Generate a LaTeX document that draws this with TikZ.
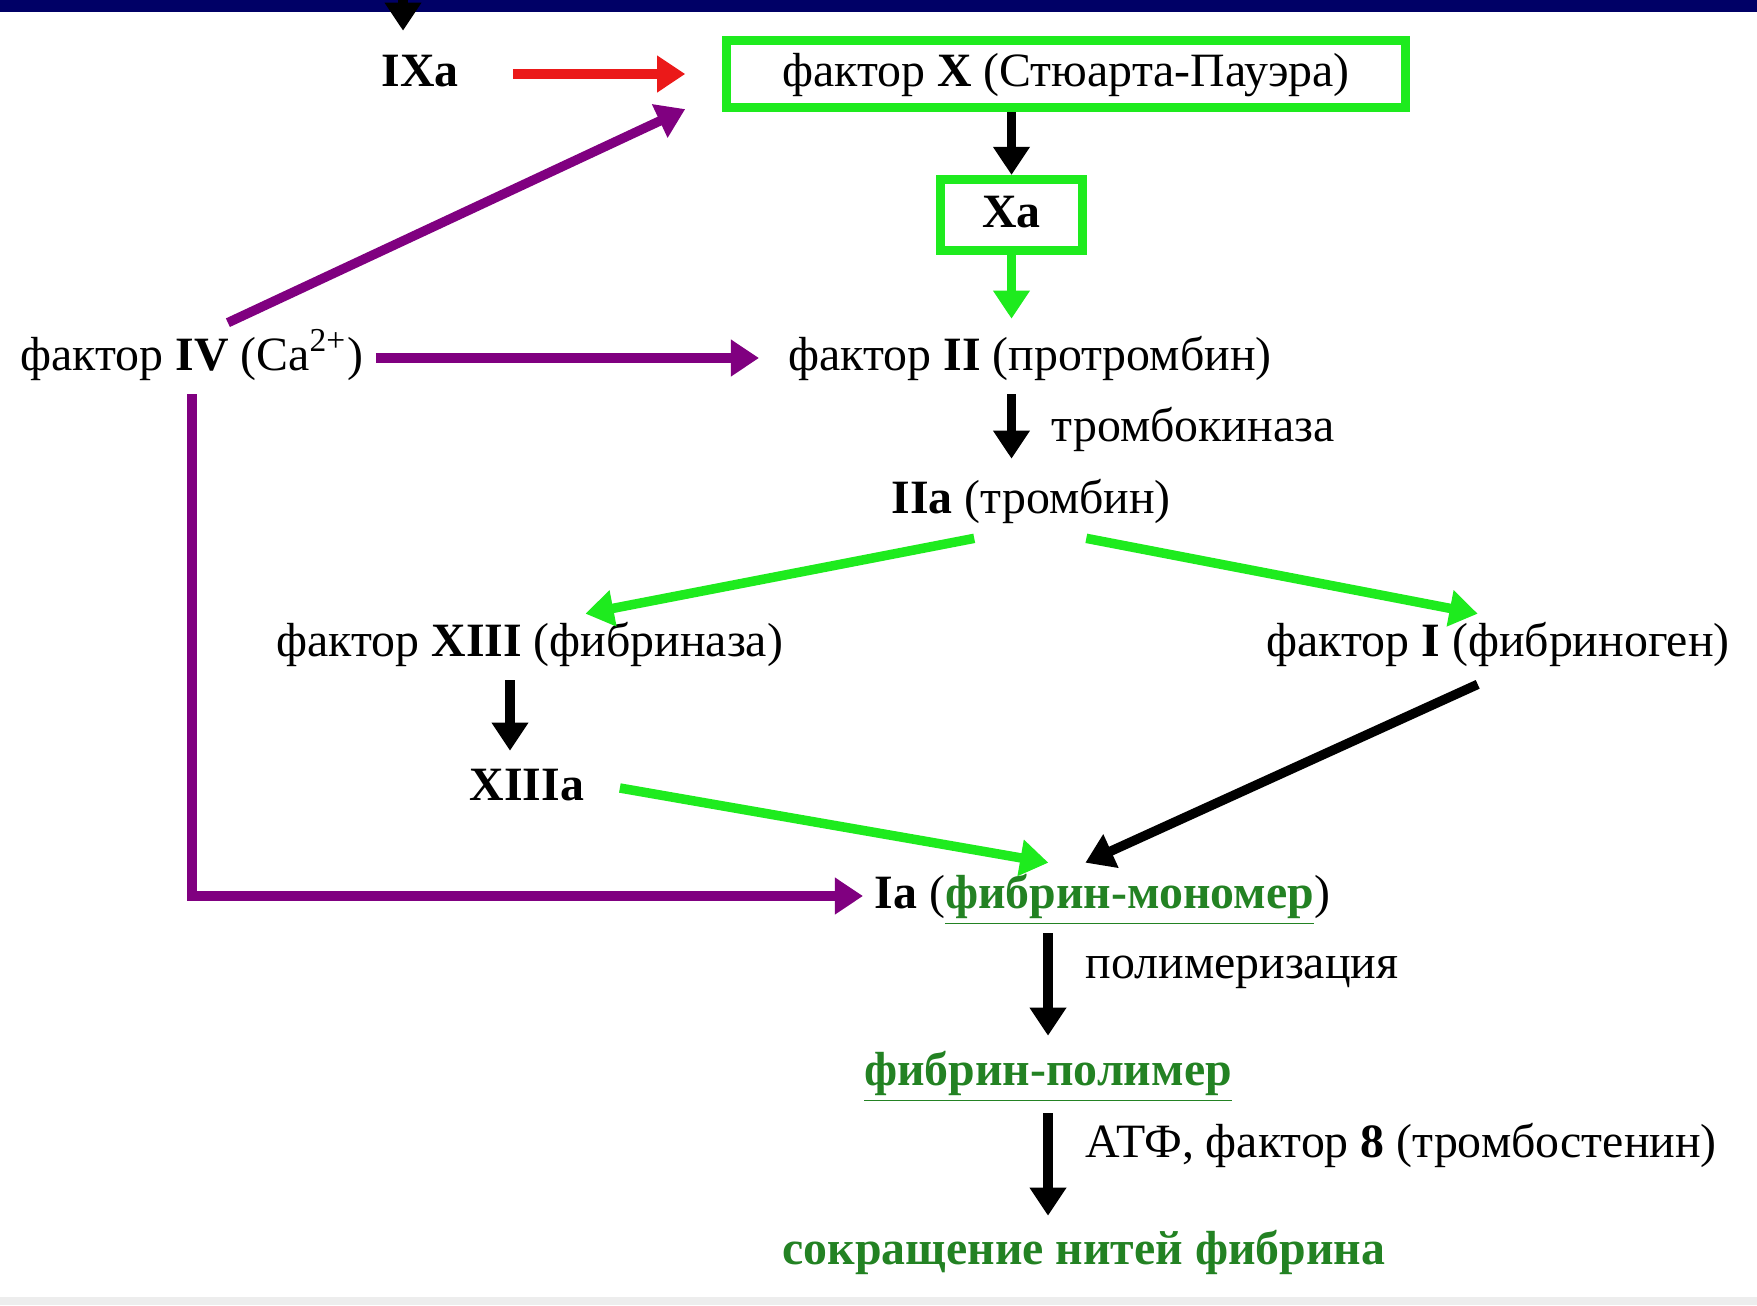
\documentclass[tikz,border=0pt]{standalone}
\usepackage{fontspec}
\setmainfont{Liberation Serif}
\usetikzlibrary{arrows.meta}
\definecolor{navybar}{RGB}{0,0,102}
\definecolor{brightgreen}{RGB}{30,235,30}
\definecolor{textgreen}{RGB}{35,130,35}
\definecolor{purp}{RGB}{128,0,128}
\definecolor{redarr}{RGB}{235,25,25}
\newcommand\gtext[1]{\textcolor{textgreen}{\textbf{#1}}}

\begin{document}
\begin{tikzpicture}[x=0.01cm, y=-0.01cm,
  txt/.style={inner sep=0pt, font=\fontsize{13.6}{16}\selectfont, text height=10.5pt, text depth=3.5pt},
  gbox/.style={txt, draw=brightgreen, line width=2.6pt},
  arr/.style={line width=2.7pt, -{Triangle[length=8pt,width=10pt]}},
  blk/.style={arr, black},
  grn/.style={arr, brightgreen},
  pur/.style={arr, purp},
  red/.style={arr, redarr}]
\useasboundingbox (0,0) rectangle (1757,1305);
\fill[white] (0,0) rectangle (1757,1305);
\fill[navybar] (0,0) rectangle (1757,12);
\fill[black!7] (0,1297) rectangle (1757,1305);

\node[txt] (ixa) at (420,74) {\textbf{IXa}};
\node[gbox, minimum width=6.78cm, minimum height=0.67cm] (fx) at (1066,74) {фактор \textbf{X} (Стюарта-Пауэра)};
\node[gbox, minimum width=1.42cm, minimum height=0.71cm] (xa) at (1011.5,215) {\textbf{Xa}};
\node[txt, anchor=west] (f4) at (20,358) {фактор \textbf{IV} (Ca\textsuperscript{2+})};
\node[txt, anchor=west] (f2) at (788,358) {фактор \textbf{II} (протромбин)};
\node[txt, anchor=west] (kin) at (1051,429) {тромбокиназа};
\node[txt, anchor=west] (f2a) at (891,501) {\textbf{IIa} (тромбин)};
\node[txt, anchor=west] (f13) at (276,644) {фактор \textbf{XIII} (фибриназа)};
\node[txt, anchor=west] (f1) at (1266,644) {фактор \textbf{I} (фибриноген)};
\node[txt] (f13a) at (527,788) {\textbf{XIIIa}};
\node[txt, anchor=west] (f1a) at (874,896) {\textbf{Ia} (\gtext{\underline{фибрин-мономер}})};
\node[txt, anchor=west] (polym) at (1085,966) {полимеризация};
\node[txt] (poly) at (1048,1073) {\gtext{\underline{фибрин-полимер}}};
\node[txt, anchor=west] (atf) at (1085,1145) {АТФ, фактор \textbf{8} (тромбостенин)};
\node[txt] (contr) at (1084,1252) {\gtext{сокращение нитей фибрина}};

\coordinate (in9) at (403,0);
\coordinate (k13) at ([xshift=-0.17cm]f13a.north);
\draw[blk, shorten >=0.18cm] (in9) -- (in9 |- ixa.north);
\draw[red, shorten <=0.535cm, shorten >=0.37cm] (ixa) -- (fx);
\draw[pur] ([xshift=0.36cm,yshift=0.1cm]f4.north) -- ([xshift=-0.37cm,yshift=0.03cm]fx.south west);
\draw[pur, shorten <=0.12cm, shorten >=0.29cm] (f4) -- (f2);
\draw[pur, shorten <=0.11cm, shorten >=0.11cm] (f4.south) |- (f1a.west);
\draw[blk] (fx.south -| xa.north) -- (xa.north);
\draw[grn, shorten >=0.14cm] (xa.south) -- (xa.south |- f2.north);
\draw[blk, shorten <=0.11cm, shorten >=0.17cm] (f2.south -| xa.south) -- (f2a.north -| xa.south);
\draw[grn] ([xshift=-0.57cm,yshift=-0.12cm]f2a.south) -- ([xshift=0.555cm,yshift=0.05cm]f13.north);
\draw[grn] ([xshift=0.55cm,yshift=-0.12cm]f2a.south) -- ([xshift=-0.205cm,yshift=0.05cm]f1.north);
\draw[blk, shorten <=0.11cm, shorten >=0.12cm] (k13 |- f13.south) -- (k13);
\draw[grn] ([xshift=0.35cm]f13a.east) -- ([xshift=-0.54cm,yshift=0.08cm]f1a.north);
\draw[blk] ([xshift=-0.205cm,yshift=-0.15cm]f1.south) -- ([xshift=-0.17cm,yshift=0.08cm]f1a.north);
\draw[blk, shorten <=0.12cm, shorten >=0.12cm] (f1a.south -| poly.north) -- (poly.north);
\draw[blk, shorten <=0.15cm, shorten >=0.11cm] (poly.south) -- (poly.south |- contr.north);
\end{tikzpicture}
\end{document}
